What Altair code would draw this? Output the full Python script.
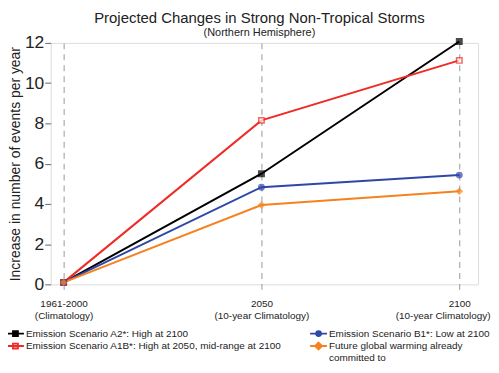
import altair as alt
import pandas as pd

# ---- data ----
periods = [0, 1, 2]
# legend order (column-major): A2, A1B | B1, committed
series_names = [
    "Emission Scenario A2*: High at 2100",
    "Emission Scenario A1B*: High at 2050, mid-range at 2100",
    "Emission Scenario B1*: Low at 2100",
    "Future global warming already committed to",
]
a2 = [0.1, 5.5, 12.07]
a1b = [0.1, 8.15, 11.13]
b1 = [0.1, 4.83, 5.43]
committed = [0.1, 3.94, 4.63]

colors = ["#000000", "#ee2b24", "#2f48a8", "#f5821f"]
fills = ["#000000", "#ffffff", "#2f48a8", "#f5821f"]
marker_shapes = ["square", "square", "circle", "diamond"]
legend_shapes = [
    "M-1.7,0H1.7M-0.5,-0.5H0.5V0.5H-0.5Z",
    "M-1.7,0H1.7M-0.5,-0.5H0.5V0.5H-0.5Z",
    "M-1.7,0H1.7M0.5,0A0.5,0.5,0,1,1,-0.5,0A0.5,0.5,0,1,1,0.5,0Z",
    "M-1.7,0H1.7M0,-0.7L0.7,0L0,0.7L-0.7,0Z",
]

rows = []
for name, vals in zip(series_names, [a2, a1b, b1, committed]):
    for p, v in zip(periods, vals):
        rows.append({"series": name, "period": p, "value": v})
df = pd.DataFrame(rows)

pad = "\u2003\u2003\u200b"
label_expr = ("datum.value == 0 ? ['1961-2000', '(Climatology)'] : "
              "datum.value == 1 ? ['2050', '(10-year Climatology)'] : "
              "datum.value == 2 ? ['2100" + pad + "', '(10-year Climatology)'] : ''")

x = alt.X("period:Q",
          scale=alt.Scale(domain=[-0.065, 2.095], nice=False, zero=False),
          axis=alt.Axis(values=periods, labelExpr=label_expr, title=None,
                        grid=True, gridDash=[6, 5], gridColor="#aaaaaa",
                        gridWidth=1.2, domain=False, tickColor="#999999",
                        tickSize=5, labelFontSize=10, labelColor="#222222",
                        labelPadding=9, labelLineHeight=12, labelLimit=300,
                        labelAlign=alt.condition("datum.value == 2", alt.value("right"), alt.value("center")),
                        labelOffset=alt.condition("datum.value == 2", alt.value(31), alt.value(0)),
                        labelFont="Liberation Sans"))
y = alt.Y("value:Q",
          scale=alt.Scale(domain=[0, 12], nice=False),
          axis=alt.Axis(values=[0, 2, 4, 6, 8, 10, 12], grid=False, domain=False,
                        tickColor="#666666", tickSize=6, labelFontSize=17.5,
                        labelColor="#222222", labelFont="Liberation Sans",
                        labelPadding=1,
                        title="Increase in number of events per year",
                        titleFontSize=14, titleFontWeight="normal",
                        titleColor="#222222", titleFont="Liberation Sans",
                        titlePadding=2))

color_scale = alt.Scale(domain=series_names, range=colors)

lines = alt.Chart(df).mark_line(strokeWidth=2).encode(
    x=x, y=y,
    color=alt.Color("series:N", scale=color_scale, legend=None),
)

points = alt.Chart(df).mark_point(size=30, filled=False, strokeWidth=1.5).encode(
    x=x, y=y,
    stroke=alt.Stroke("series:N", scale=color_scale, legend=None),
    fill=alt.Fill("series:N", scale=alt.Scale(domain=series_names, range=fills), legend=None),
    shape=alt.Shape("series:N", scale=alt.Scale(domain=series_names, range=marker_shapes), legend=None),
)

legend_expr = ("datum.label == 'Future global warming already committed to' ? "
               "['Future global warming already', 'committed to'] : datum.label")

legend_layer = alt.Chart(df).mark_point(size=100, opacity=0, filled=False, strokeWidth=1.8).encode(
    x=x, y=y,
    shape=alt.Shape("series:N",
                    scale=alt.Scale(domain=series_names, range=legend_shapes),
                    legend=alt.Legend(title=None, orient="none", legendX=-41.5, legendY=286,
                                      columns=2, columnPadding=24, rowPadding=-2,
                                      padding=0,
                                      labelFontSize=10, labelColor="#222222",
                                      labelFont="Liberation Sans", labelLimit=400,
                                      labelOffset=4.5, symbolSize=100,
                                      symbolOpacity=1, symbolStrokeWidth=1.8,
                                      labelExpr=legend_expr)),
    stroke=alt.Stroke("series:N", scale=alt.Scale(domain=series_names, range=colors)),
    fill=alt.Fill("series:N", scale=alt.Scale(domain=series_names, range=fills)),
)

chart = alt.layer(lines, points, legend_layer).resolve_scale(
    shape="independent", fill="independent", stroke="independent"
).resolve_legend(
    shape="independent", fill="independent", stroke="independent"
).properties(
    width=430, height=243,
    autosize=alt.AutoSizeParams(type="none"),
    padding={"left": 43, "top": 34, "right": 13, "bottom": 80},
    title=alt.Title("Projected Changes in Strong Non-Tropical Storms",
                    subtitle="(Northern Hemisphere)",
                    fontSize=15, fontWeight="normal", font="Liberation Sans",
                    color="#222222", subtitleFontSize=11, subtitleColor="#222222",
                    subtitleFont="Liberation Sans", anchor="middle", frame="group",
                    offset=-4, dx=-5, subtitlePadding=1),
).configure_view(stroke="#888888", strokeWidth=1.5).configure(background="white")

chart.save("out.html", embed_options={"renderer": "svg", "actions": False})
